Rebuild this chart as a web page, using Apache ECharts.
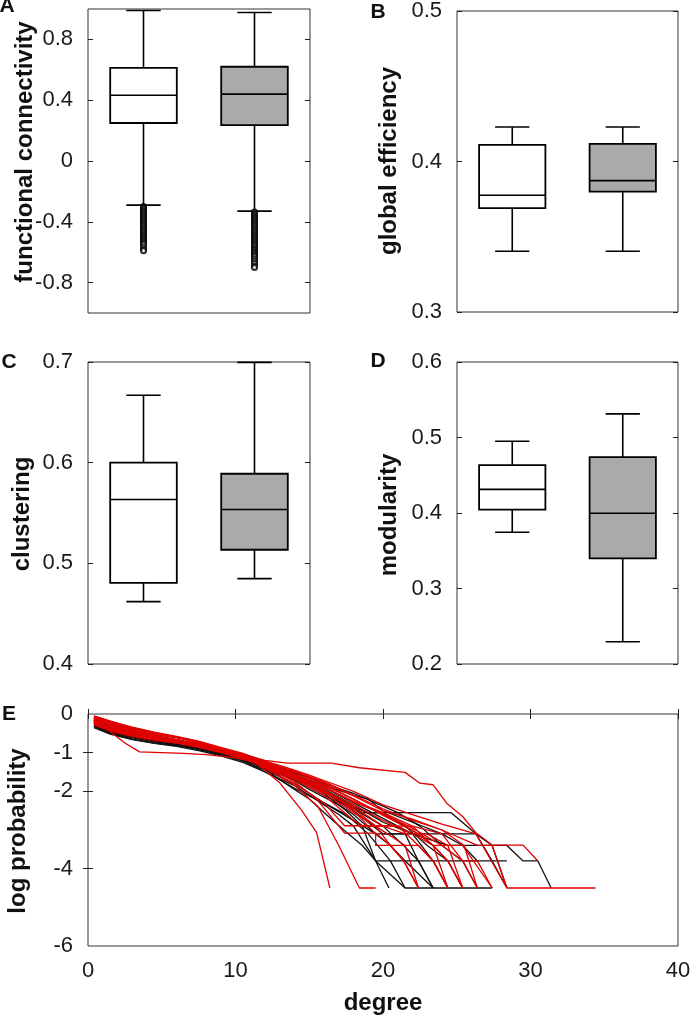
<!DOCTYPE html>
<html>
<head>
<meta charset="utf-8">
<script src="https://cdn.jsdelivr.net/npm/echarts@6/dist/echarts.min.js"></script>
<style>
html,body{margin:0;padding:0;background:#fff;}
#chart{width:695px;height:1019px;}
</style>
</head>
<body>
<div id="chart"></div>
<script>
// ---------- DATA ----------
const categories = ['group 1', 'group 2'];
// [min whisker, Q1, median, Q3, max whisker]
const fcBox = [[-0.29, 0.25, 0.433, 0.613, 0.99], [-0.33, 0.236, 0.44, 0.62, 0.977]];
const fcOutliers1 = [-0.30,-0.305,-0.31,-0.32,-0.33,-0.34,-0.35,-0.36,-0.37,-0.38,-0.39,-0.40,-0.41,-0.42,-0.43,-0.44,-0.45,-0.46,-0.47,-0.48,-0.49,-0.50,-0.51,-0.52,-0.53,-0.54,-0.55,-0.565,-0.58,-0.59];
const fcOutliers2 = [-0.335,-0.34,-0.35,-0.36,-0.37,-0.38,-0.39,-0.40,-0.41,-0.42,-0.43,-0.44,-0.45,-0.46,-0.47,-0.48,-0.49,-0.50,-0.51,-0.52,-0.53,-0.54,-0.55,-0.56,-0.57,-0.58,-0.59,-0.60,-0.61,-0.62,-0.63,-0.645,-0.66,-0.675,-0.69,-0.70];
const geBox = [[0.3404, 0.369, 0.3776, 0.411, 0.4229], [0.3404, 0.380, 0.3873, 0.4117, 0.4229]];
const clBox = [[0.462, 0.4805, 0.5634, 0.600, 0.667], [0.4848, 0.5135, 0.5535, 0.589, 0.6996]];
const moBox = [[0.3745, 0.4045, 0.4313, 0.4634, 0.4951], [0.2294, 0.340, 0.3996, 0.474, 0.5313]];

const fcTicks = [-0.8, -0.4, 0, 0.4, 0.8];
const degTicksLabels = [0, -1, -2, -4, -6];
const degTicksMarks = [-1, -2, -4];

// log probability vs degree curves
const blackCurves = [
 [[0.4,-0.1],[1.5,-0.25],[3,-0.42],[4.5,-0.55],[6,-0.66],[7.5,-0.8],[9,-0.95],[10.5,-1.12],[12,-1.42],[13,-1.7],[14,-1.95],[15,-2.2],[16,-2.55],[17.5,-3.05],[18.6,-3.4],[19.5,-3.8],[20.4,-4.5]],
 [[0.4,-0.22],[1.5,-0.38],[3,-0.55],[4.5,-0.66],[6,-0.76],[7.5,-0.88],[9,-1.02],[10.5,-1.2],[12,-1.5],[13,-1.68],[14,-1.85],[15,-2.1],[16,-2.35],[17,-2.6],[18,-2.9],[19.5,-3.8],[21.5,-4.5],[27.4,-4.5]],
 [[0.4,-0.3],[1.5,-0.48],[3,-0.62],[4.5,-0.72],[6,-0.8],[7.5,-0.9],[9,-1.03],[10.5,-1.16],[12,-1.38],[13,-1.55],[14,-1.72],[15,-1.95],[16,-2.15],[17,-2.35],[18,-2.6],[19.5,-3.1],[20.5,-3.4],[21.5,-3.8],[23.4,-4.5]],
 [[0.4,-0.15],[1.5,-0.3],[3,-0.46],[4.5,-0.6],[6,-0.72],[7.5,-0.84],[9,-0.97],[10.5,-1.1],[12,-1.3],[13,-1.45],[14,-1.6],[15,-1.78],[16,-1.95],[17.5,-2.3],[18.6,-2.55],[24.6,-2.55],[26.3,-3.1],[27.4,-3.8],[28.4,-4.5]],
 [[0.4,-0.25],[1.5,-0.42],[3,-0.58],[4.5,-0.7],[6,-0.78],[7.5,-0.9],[9,-1.04],[10.5,-1.18],[12,-1.35],[13,-1.5],[14,-1.65],[15,-1.85],[16,-2.05],[17.5,-2.5],[18.6,-2.9],[19.5,-3.8],[28.4,-3.8]],
 [[0.4,-0.12],[1.5,-0.28],[3,-0.44],[4.5,-0.57],[6,-0.68],[7.5,-0.8],[9,-0.94],[10.5,-1.08],[12,-1.32],[13,-1.45],[14,-1.58],[15,-1.72],[16,-1.9],[18,-2.3],[20,-2.7],[22,-3.1],[23.4,-3.8],[24.4,-4.5]],
 [[0.4,-0.32],[1.5,-0.5],[3,-0.65],[4.5,-0.75],[6,-0.82],[7.5,-0.92],[9,-1.06],[10.5,-1.22],[12,-1.45],[13,-1.62],[14,-1.8],[15,-2.05],[16,-2.3],[18,-2.75],[19.5,-3.1],[21.5,-3.1],[22.4,-3.8],[23.4,-4.5]],
 [[0.4,-0.2],[1.5,-0.34],[3,-0.5],[4.5,-0.62],[6,-0.73],[7.5,-0.85],[9,-0.98],[10.5,-1.1],[12,-1.3],[13,-1.42],[14,-1.55],[15,-1.7],[16,-1.85],[18,-2.1],[19,-2.2],[20,-2.5],[22,-2.8],[24,-3.1],[26.3,-3.1],[27.4,-3.4],[28.4,-4.5]],
 [[0.4,-0.24],[1.5,-0.4],[3,-0.56],[4.5,-0.67],[6,-0.77],[7.5,-0.88],[9,-1.0],[10.5,-1.14],[12,-1.36],[13,-1.48],[14,-1.62],[15,-1.78],[16,-1.95],[18,-2.35],[20,-2.8],[22,-3.1],[24.4,-3.4],[28.4,-3.4],[29.5,-3.8],[30.5,-3.8],[31.4,-4.5]],
 [[0.4,-0.35],[1.5,-0.52],[3,-0.66],[4.5,-0.76],[6,-0.84],[7.5,-0.95],[9,-1.08],[10.5,-1.25],[12,-1.5],[13,-1.7],[14,-1.92],[15,-2.12],[16,-2.3],[17.5,-2.6],[19,-3.1],[20.5,-3.8],[21.5,-4.5]],
 [[0.4,-0.16],[1.5,-0.32],[3,-0.48],[4.5,-0.6],[6,-0.7],[7.5,-0.82],[9,-0.95],[10.5,-1.08],[12,-1.27],[13,-1.4],[14,-1.52],[15,-1.65],[16,-1.8],[18,-2.05],[19.5,-2.3],[21,-2.55],[22.5,-2.9],[24,-3.4],[25.4,-3.8],[26.4,-4.5]],
 [[0.4,-0.27],[1.5,-0.45],[3,-0.6],[4.5,-0.7],[6,-0.79],[7.5,-0.9],[9,-1.03],[10.5,-1.18],[12,-1.42],[13,-1.56],[14,-1.7],[15,-1.9],[16,-2.1],[18,-2.45],[20,-2.9],[21.4,-3.4],[22.4,-3.8],[23.4,-4.5]],
 [[0.4,-0.18],[1.5,-0.35],[3,-0.52],[4.5,-0.64],[6,-0.74],[7.5,-0.86],[9,-0.99],[10.5,-1.12],[12,-1.33],[13,-1.46],[14,-1.6],[15,-1.78],[16,-1.98],[18,-2.4],[19,-2.55],[20,-2.55],[21.5,-2.9],[23,-3.4],[24.4,-3.8],[25.4,-4.5]],
 [[0.4,-0.3],[1.5,-0.46],[3,-0.6],[4.5,-0.69],[6,-0.77],[7.5,-0.89],[9,-1.02],[10.5,-1.16],[12,-1.34],[13,-1.5],[14,-1.66],[15,-1.82],[16,-2.0],[18,-2.5],[20,-3.1],[24,-3.1],[25.4,-3.4],[26.4,-3.8]]
];
const redCurves = [
 [[0.4,-0.2],[1.5,-0.45],[2.5,-0.75],[3.5,-0.98],[5,-1.0],[6.5,-1.02],[8,-1.05],[9.8,-1.12],[11,-1.22],[12,-1.35],[13,-1.47],[14,-1.6],[15,-1.77],[16,-1.95],[18,-2.5],[19.5,-3.1],[19.5,-3.4],[21.3,-3.4],[22.4,-3.4],[23.4,-3.8],[24.4,-4.5]],
 [[0.4,-0.05],[1.5,-0.18],[3,-0.35],[4.5,-0.48],[6,-0.6],[7.5,-0.74],[9,-0.9],[10.5,-1.1],[11.5,-1.3],[13,-1.78],[14.5,-2.5],[15.5,-3.07],[16.4,-4.5]],
 [[0.4,-0.12],[1.5,-0.27],[3,-0.43],[4.5,-0.56],[6,-0.66],[7.5,-0.78],[9,-0.93],[10.5,-1.1],[12,-1.4],[13,-1.62],[14,-1.85],[15.6,-2.4],[17,-3.4],[18.4,-4.5],[19.5,-4.5]],
 [[0.4,-0.08],[1.5,-0.2],[3,-0.36],[4.5,-0.5],[6,-0.6],[7.5,-0.72],[9,-0.88],[10.5,-1.05],[12,-1.2],[13.5,-1.27],[16.5,-1.27],[18.4,-1.39],[21.5,-1.51],[22.5,-1.79],[23.4,-1.83],[24.3,-2.3],[25.4,-2.65],[26.3,-3.07],[27.4,-3.39],[29.5,-3.39],[30.5,-3.8]],
 [[0.4,-0.18],[1.5,-0.33],[3,-0.48],[4.5,-0.6],[6,-0.7],[7.5,-0.82],[9,-0.95],[10.5,-1.08],[12,-1.28],[13,-1.38],[14,-1.5],[15,-1.62],[16,-1.75],[18,-2.1],[20,-2.45],[22,-2.75],[24,-3.0],[26.4,-3.4],[27.4,-3.4],[28.4,-4.5],[34.4,-4.5]],
 [[0.4,-0.25],[1.5,-0.4],[3,-0.54],[4.5,-0.64],[6,-0.72],[7.5,-0.84],[9,-0.98],[10.5,-1.14],[12,-1.38],[13,-1.55],[14,-1.75],[15.5,-2.2],[17.4,-3.08],[19.5,-3.08],[20.5,-3.4],[21.4,-3.8],[22.4,-4.5]],
 [[0.4,-0.15],[1.5,-0.3],[3,-0.46],[4.5,-0.58],[6,-0.67],[7.5,-0.76],[9,-0.9],[10.5,-1.06],[12,-1.27],[13,-1.4],[14,-1.55],[15,-1.7],[16,-1.85],[18,-2.2],[20,-2.6],[21.4,-2.9],[22.4,-3.1],[23.4,-3.4],[24.4,-3.8],[25.4,-4.5]],
 [[0.4,-0.2],[1.5,-0.36],[3,-0.5],[4.5,-0.61],[6,-0.7],[7.5,-0.81],[9,-0.96],[10.5,-1.12],[12,-1.32],[13,-1.46],[14,-1.6],[15,-1.75],[16,-1.9],[18,-2.25],[20,-2.55],[22,-2.9],[24,-3.1],[25.4,-3.8],[26.4,-4.5]],
 [[0.4,-0.1],[1.5,-0.24],[3,-0.4],[4.5,-0.53],[6,-0.62],[7.5,-0.74],[9,-0.9],[10.5,-1.06],[12,-1.25],[13,-1.37],[14,-1.5],[15,-1.66],[16,-1.82],[18,-2.2],[20,-2.62],[22,-3.0],[23.4,-3.4],[25.4,-3.4],[27.4,-4.5]],
 [[0.4,-0.28],[1.5,-0.44],[3,-0.58],[4.5,-0.68],[6,-0.75],[7.5,-0.86],[9,-1.0],[10.5,-1.15],[12,-1.36],[13,-1.52],[14,-1.7],[15,-1.9],[16,-2.1],[18,-2.75],[18.6,-2.9],[22,-2.9],[23.4,-3.4],[24.4,-4.5]],
 [[0.4,-0.17],[1.5,-0.32],[3,-0.47],[4.5,-0.59],[6,-0.69],[7.5,-0.8],[9,-0.94],[10.5,-1.12],[12,-1.4],[13,-1.6],[14,-1.8],[15,-2.05],[16,-2.3],[17.4,-2.89],[21,-2.89],[22.4,-3.4],[23.4,-3.8],[24.4,-4.5]],
 [[0.4,-0.13],[1.5,-0.28],[3,-0.44],[4.5,-0.57],[6,-0.67],[7.5,-0.79],[9,-0.93],[10.5,-1.1],[12,-1.3],[13,-1.46],[14,-1.62],[15,-1.8],[16,-2.0],[18,-2.45],[19.5,-2.9],[21.5,-3.4],[22.4,-4.5]],
 [[0.4,-0.26],[1.5,-0.42],[3,-0.56],[4.5,-0.66],[6,-0.74],[7.5,-0.85],[9,-0.99],[10.5,-1.14],[12,-1.33],[13,-1.48],[14,-1.64],[15,-1.8],[16,-1.98],[18,-2.35],[20,-2.75],[22,-3.1],[23.4,-3.4],[24.4,-3.8],[25.4,-4.5]],
 [[0.4,-0.09],[1.5,-0.22],[3,-0.38],[4.5,-0.5],[6,-0.6],[7.5,-0.73],[9,-0.88],[10.5,-1.04],[12,-1.24],[13,-1.36],[14,-1.48],[15,-1.62],[16,-1.78],[18,-2.12],[20,-2.5],[22,-2.72],[24,-3.0],[25.5,-3.4],[26.4,-4.5]],
 [[0.4,-0.22],[1.5,-0.38],[3,-0.52],[4.5,-0.63],[6,-0.72],[7.5,-0.83],[9,-0.97],[10.5,-1.12],[12,-1.34],[13,-1.5],[14,-1.68],[15,-1.86],[16,-2.05],[18,-2.55],[19.5,-2.9],[20.5,-3.4],[21.4,-3.8],[22.4,-4.5]],
 [[0.4,-0.16],[1.5,-0.31],[3,-0.46],[4.5,-0.58],[6,-0.68],[7.5,-0.8],[9,-0.94],[10.5,-1.1],[12,-1.3],[13,-1.42],[14,-1.56],[15,-1.72],[16,-1.88],[18,-2.28],[20,-2.58],[22,-2.95],[24,-3.4],[25.4,-3.8],[26.4,-3.8],[27.4,-4.5]],
 [[0.4,-0.24],[1.5,-0.41],[3,-0.55],[4.5,-0.65],[6,-0.73],[7.5,-0.84],[9,-0.98],[10.5,-1.13],[12,-1.35],[13,-1.5],[14,-1.66],[15,-1.84],[16,-2.02],[18,-2.4],[20,-2.9],[21.5,-3.1],[23,-3.1],[24.4,-3.4],[25.4,-4.5]],
 [[0.4,-0.06],[1.5,-0.19],[3,-0.34],[4.5,-0.47],[6,-0.58],[7.5,-0.7],[9,-0.86],[10.5,-1.02],[12,-1.22],[13,-1.33],[14,-1.45],[15,-1.58],[16,-1.72],[18,-2.0],[20,-2.35],[22,-2.6],[24,-2.85],[26.3,-3.1],[28.4,-4.5]]
];

// ---------- STYLE ----------
const FONT = "'Liberation Sans', Arial, Helvetica, sans-serif";
const boxFills = ['#ffffff', '#aaaaaa'];
const labelColor = '#1a1a1a';
const tickFont = 22;

const chart = echarts.init(document.getElementById('chart'), null, {renderer: 'canvas'});

const grids = [
  {left: 88, top: 9, width: 222, height: 304},
  {left: 457, top: 9, width: 221, height: 303},
  {left: 88, top: 362, width: 222, height: 302},
  {left: 457, top: 362, width: 221, height: 302},
  {left: 88, top: 714, width: 590, height: 232}
].map(g => Object.assign({show: true, borderColor: '#333', borderWidth: 1, backgroundColor: 'transparent', containLabel: false}, g));

function renderBox(params, api) {
  const idx = api.value(0);
  const v = [1, 2, 3, 4, 5].map(i => api.value(i));
  const p = v.map(val => api.coord([idx, val]));
  const band = api.size([1, 0])[0];
  const bw = band * 0.6, cw = band * 0.31;
  const x = p[0][0];
  const ls = {stroke: '#000', lineWidth: 1.6};
  return {
    type: 'group',
    children: [
      {type: 'line', shape: {x1: x, y1: p[4][1], x2: x, y2: p[3][1]}, style: ls},
      {type: 'line', shape: {x1: x, y1: p[1][1], x2: x, y2: p[0][1]}, style: ls},
      {type: 'line', shape: {x1: x - cw / 2, y1: p[4][1], x2: x + cw / 2, y2: p[4][1]}, style: ls},
      {type: 'line', shape: {x1: x - cw / 2, y1: p[0][1], x2: x + cw / 2, y2: p[0][1]}, style: ls},
      {type: 'rect', shape: {x: x - bw / 2, y: p[3][1], width: bw, height: p[1][1] - p[3][1]},
        style: {fill: boxFills[idx], stroke: '#000', lineWidth: 1.8}},
      {type: 'line', shape: {x1: x - bw / 2, y1: p[2][1], x2: x + bw / 2, y2: p[2][1]}, style: {stroke: '#000', lineWidth: 1.6}}
    ]
  };
}

function catAxis(gi) {
  return {type: 'category', gridIndex: gi, data: categories, boundaryGap: true,
    axisLine: {show: false}, axisTick: {show: false}, axisLabel: {show: false}, splitLine: {show: false}};
}
function valAxis(gi, min, max, interval, pos, showLabel, custom) {
  const a = {type: 'value', gridIndex: gi, min: min, max: max, position: pos,
    axisLine: {show: false}, splitLine: {show: false},
    axisTick: {show: true, inside: true, length: 5, lineStyle: {color: '#222', width: 1}},
    axisLabel: {show: showLabel, margin: 15, fontSize: tickFont, color: labelColor, fontFamily: FONT}};
  if (interval != null) a.interval = interval;
  if (custom) {
    a.axisLabel.customValues = custom.labels;
    a.axisTick.customValues = custom.ticks;
  }
  return a;
}

const fcCustom = {labels: fcTicks, ticks: fcTicks};
const degCustom = {labels: degTicksLabels, ticks: degTicksMarks};

const xAxes = [catAxis(0), catAxis(1), catAxis(2), catAxis(3),
  {type: 'value', gridIndex: 4, min: 0, max: 40, interval: 10, position: 'bottom',
    axisLine: {show: false}, splitLine: {show: false},
    axisTick: {show: true, inside: true, length: 5, lineStyle: {color: '#222'}},
    axisLabel: {show: true, margin: 14, fontSize: tickFont, color: labelColor, fontFamily: FONT}},
  {type: 'value', gridIndex: 4, min: 0, max: 40, interval: 10, position: 'top',
    axisLine: {show: false}, splitLine: {show: false},
    axisTick: {show: true, inside: true, length: 5, lineStyle: {color: '#222'}},
    axisLabel: {show: false}}
];
const yAxes = [
  valAxis(0, -1, 1, null, 'left', true, fcCustom),
  valAxis(1, 0.3, 0.5, 0.1, 'left', true),
  valAxis(2, 0.4, 0.7, 0.1, 'left', true),
  valAxis(3, 0.2, 0.6, 0.1, 'left', true),
  valAxis(0, -1, 1, null, 'right', false, fcCustom),
  valAxis(1, 0.3, 0.5, 0.1, 'right', false),
  valAxis(2, 0.4, 0.7, 0.1, 'right', false),
  valAxis(3, 0.2, 0.6, 0.1, 'right', false),
  valAxis(4, -6, 0, null, 'left', true, degCustom),
  valAxis(4, -6, 0, null, 'right', false, degCustom)
];

const series = [];
[fcBox, geBox, clBox, moBox].forEach((boxes, gi) => {
  series.push({
    type: 'custom', xAxisIndex: gi, yAxisIndex: gi, silent: true,
    renderItem: renderBox,
    encode: {x: 0, y: [1, 2, 3, 4, 5]},
    data: boxes.map((b, i) => [i].concat(b)),
    z: 3
  });
});
[fcOutliers1, fcOutliers2].forEach((arr, i) => {
  series.push({
    type: 'scatter', xAxisIndex: 0, yAxisIndex: 0, silent: true,
    symbol: 'emptyCircle', symbolSize: 5,
    itemStyle: {color: '#000', borderColor: '#000', borderWidth: 1},
    data: arr.map(v => [categories[i], v]), z: 4
  });
});
blackCurves.forEach(c => series.push({
  type: 'line', xAxisIndex: 4, yAxisIndex: 8, data: c, showSymbol: false, silent: true,
  lineStyle: {color: '#111', width: 1.3}, z: 2
}));
redCurves.forEach(c => series.push({
  type: 'line', xAxisIndex: 4, yAxisIndex: 8, data: c, showSymbol: false, silent: true,
  lineStyle: {color: '#e00000', width: 1.3}, z: 3
}));

function txt(text, x, y, size, rot) {
  return {type: 'text', x: x, y: y, rotation: rot || 0, silent: true,
    style: {text: text, fill: '#111', font: 'bold ' + size + 'px ' + FONT,
      align: 'center', verticalAlign: 'middle', textAlign: 'center', textVerticalAlign: 'middle'}};
}
const R = Math.PI / 2;
const graphics = [
  txt('A', 7, 6, 21), txt('B', 378, 12, 21), txt('C', 9, 362, 21), txt('D', 378, 361, 21), txt('E', 9, 714, 21),
  txt('functional connectivity', 25, 152, 24, R),
  txt('global efficiency', 389, 161, 24, R),
  txt('clustering', 22, 514, 24, R),
  txt('modularity', 389, 515, 24, R),
  txt('log probability', 18, 831, 24, R),
  txt('degree', 383, 1003, 24)
];

chart.setOption({
  animation: false,
  backgroundColor: '#fff',
  textStyle: {fontFamily: FONT},
  grid: grids,
  xAxis: xAxes,
  yAxis: yAxes,
  series: series,
  graphic: graphics
});
</script>
</body>
</html>
